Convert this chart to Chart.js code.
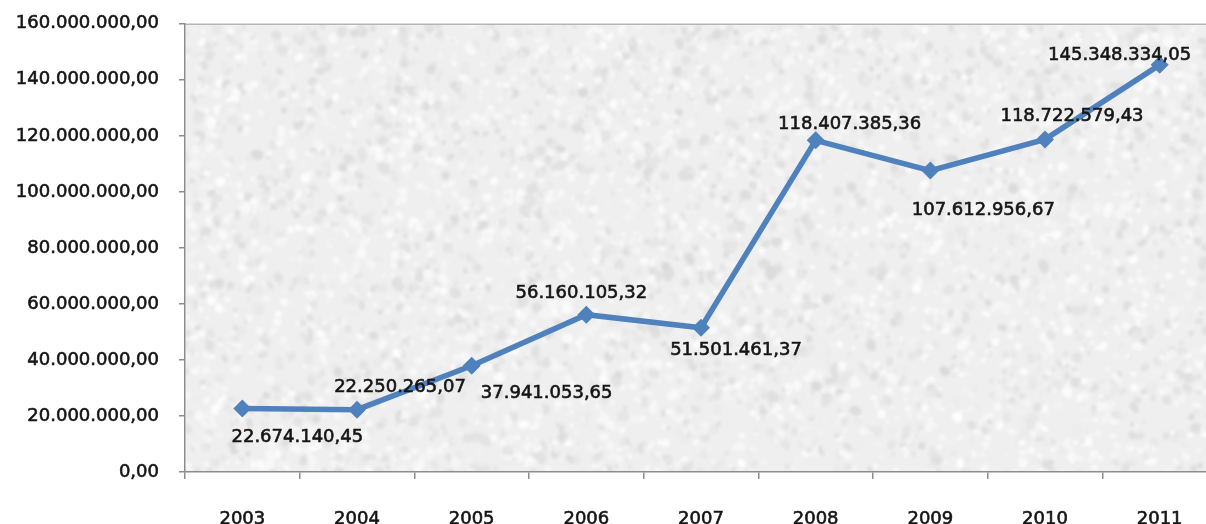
<!DOCTYPE html>
<html>
<head>
<meta charset="utf-8">
<script src="https://cdn.jsdelivr.net/npm/chart.js@4.4.1/dist/chart.umd.min.js"></script>
<style>
  html, body { margin: 0; padding: 0; background: #fff; overflow: hidden; }
  #wrap { position: relative; width: 1230px; height: 545px; }
  #chart { position: absolute; left: 0; top: -7px; }
</style>
</head>
<body>
<div id="wrap"><canvas id="chart" width="1230" height="545"></canvas></div>
<script>
// Yearly values
const years = ['2003', '2004', '2005', '2006', '2007', '2008', '2009', '2010', '2011'];
const amounts = [22674140.45, 22250265.07, 37941053.65, 56160105.32, 51501461.37,
                 118407385.36, 107612956.67, 118722579.43, 145348334.05];
const yTicks = [0, 20000000, 40000000, 60000000, 80000000, 100000000, 120000000, 140000000, 160000000];

// Label placement relative to each marker (px)
const labelOffsets = [[55, 29], [43, -22], [75, 28], [-5, -21], [35, 23],
                      [34, -16], [53, 40], [27, -23], [-40, -10]];

const FONT = { family: '"DejaVu Sans", sans-serif', size: 18 };
const LINE = '#4f81bd';
const TEXT = '#141414';

// Brazilian style number: 1.234.567,89
function fmt(v) {
  const parts = v.toFixed(2).split('.');
  const int = parts[0].replace(/\B(?=(\d{3})+(?!\d))/g, '.');
  return int + ',' + parts[1];
}

// Soft grey stone texture for the plot area (seeded, deterministic)
function makeTexture(w, h) {
  const c = document.createElement('canvas');
  c.width = w; c.height = h;
  const g = c.getContext('2d');
  g.fillStyle = '#efefef';
  g.fillRect(0, 0, w, h);
  let s = 12345;
  const rnd = () => { s = (s * 1103515245 + 12345) % 2147483648; return s / 2147483648; };
  const n = Math.floor(w * h / 10);
  for (let i = 0; i < n; i++) {
    const x = rnd() * w, y = rnd() * h;
    const r = 1.5 + rnd() * 3.5;
    const light = rnd() < 0.55;
    const shade = light ? 247 + Math.floor(rnd() * 8) : 220 + Math.floor(rnd() * 18);
    g.fillStyle = 'rgba(' + shade + ',' + shade + ',' + shade + ',' + (0.12 + rnd() * 0.22) + ')';
    g.beginPath();
    g.ellipse(x, y, r, r * (0.5 + rnd()), rnd() * Math.PI, 0, Math.PI * 2);
    g.fill();
  }
  const out = document.createElement('canvas');
  out.width = w; out.height = h;
  const o = out.getContext('2d');
  o.filter = 'blur(1.8px)';
  o.drawImage(c, 0, 0);
  return out;
}

const plotBackground = {
  id: 'plotBackground',
  beforeDraw(chart) {
    const { ctx, chartArea: a } = chart;
    if (!this.tex) this.tex = makeTexture(Math.ceil(a.right - a.left) + 4, Math.ceil(a.bottom - a.top) + 4);
    ctx.save();
    ctx.beginPath();
    ctx.rect(a.left, a.top, a.right - a.left, a.bottom - a.top);
    ctx.clip();
    ctx.drawImage(this.tex, a.left, a.top);
    ctx.restore();
    ctx.save();
    ctx.strokeStyle = '#b4b4b4';
    ctx.lineWidth = 1.5;
    ctx.beginPath();
    ctx.moveTo(a.left, a.top + 0.5);
    ctx.lineTo(a.right, a.top + 0.5);
    ctx.stroke();
    ctx.restore();
  }
};

const pointLabels = {
  id: 'pointLabels',
  afterDatasetsDraw(chart) {
    const { ctx } = chart;
    const meta = chart.getDatasetMeta(0);
    ctx.save();
    ctx.font = FONT.size + 'px ' + FONT.family;
    ctx.fillStyle = TEXT;
    ctx.strokeStyle = TEXT;
    ctx.lineWidth = 0.6;
    ctx.textAlign = 'center';
    ctx.textBaseline = 'middle';
    meta.data.forEach((pt, i) => {
      const off = labelOffsets[i];
      const t = fmt(amounts[i]);
      ctx.strokeText(t, pt.x + off[0], pt.y + off[1]);
      ctx.fillText(t, pt.x + off[0], pt.y + off[1]);
    });
    ctx.restore();
  }
};

new Chart(document.getElementById('chart'), {
  type: 'line',
  data: {
    labels: years,
    datasets: [{
      data: amounts,
      borderColor: LINE,
      backgroundColor: LINE,
      borderWidth: 5.5,
      tension: 0,
      pointStyle: 'rectRot',
      pointRadius: 9,
      pointBorderWidth: 0,
      pointBackgroundColor: LINE,
      fill: false
    }]
  },
  options: {
    responsive: false,
    animation: false,
    devicePixelRatio: 1,
    layout: { padding: { top: 16, right: 13, left: 0, bottom: 0 } },
    plugins: { legend: { display: false }, tooltip: { enabled: false } },
    scales: {
      x: {
        type: 'category',
        offset: true,
        grid: { offset: true, drawOnChartArea: false, drawTicks: true, tickLength: 7, color: '#8c8c8c', lineWidth: 1.5 },
        border: { color: '#8c8c8c', width: 1.5 },
        ticks: { color: TEXT, font: FONT, padding: 30, maxRotation: 0, autoSkip: false,
                 textStrokeColor: TEXT, textStrokeWidth: 0.6 },
        afterFit(scale) { scale.height = 66; }
      },
      y: {
        min: 0,
        max: 160000000,
        afterBuildTicks(scale) { scale.ticks = yTicks.map(v => ({ value: v })); },
        grid: { drawOnChartArea: false, drawTicks: true, tickLength: 6, color: '#8c8c8c', lineWidth: 1.5 },
        border: { color: '#8c8c8c', width: 1.5 },
        ticks: { color: TEXT, font: FONT, padding: 20, crossAlign: 'near', callback: v => fmt(v),
                 textStrokeColor: TEXT, textStrokeWidth: 0.6 },
        afterFit(scale) { scale.width = 185; }
      }
    }
  },
  plugins: [plotBackground, pointLabels]
});
</script>
</body>
</html>
